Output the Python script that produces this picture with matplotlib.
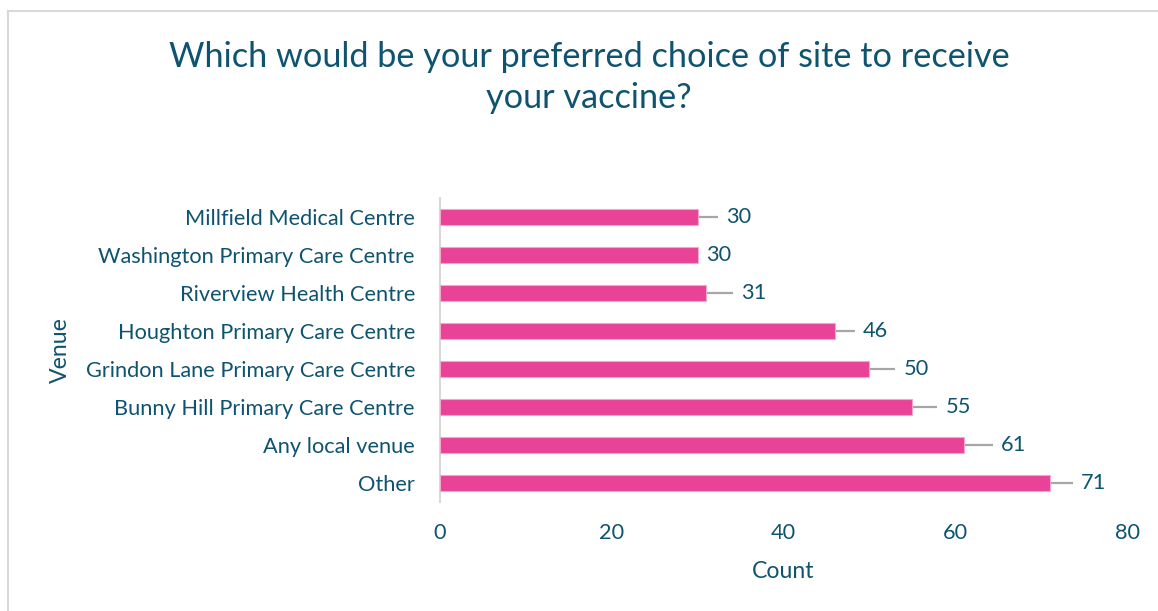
import matplotlib
matplotlib.use("Agg")
import matplotlib.pyplot as plt
from matplotlib.lines import Line2D

plt.rcParams['font.family'] = ['Lato', 'DejaVu Sans']

venues = ["Millfield Medical Centre", "Washington Primary Care Centre", "Riverview Health Centre",
          "Houghton Primary Care Centre", "Grindon Lane Primary Care Centre",
          "Bunny Hill Primary Care Centre", "Any local venue", "Other"]
counts = [30, 30, 31, 46, 50, 55, 61, 71]
leader_px = [20, 0, 27, 20, 26, 25, 29, 23]
xticks = [0, 20, 40, 60, 80]

TXT = "#0E5470"
PINK = "#E84396"
FS = 15.7

W, H = 1158, 611
fig = plt.figure(figsize=(W/100, H/100), dpi=100)
ax = fig.add_axes([440/W, 1-502/H, (1127-440)/W, (502-198)/H])

ypos = list(range(len(venues)))[::-1]
ax.barh(ypos, counts, height=0.42, color=PINK, edgecolor="#F4A6CB", linewidth=0.8, zorder=3)
ax.set_xlim(0, 80)
ax.set_ylim(-0.5, len(venues)-0.5)
ax.set_yticks(ypos)
ax.set_yticklabels(venues)
ax.set_xticks(xticks)
ax.set_xticklabels([str(t) for t in xticks])
ax.tick_params(axis='y', length=0, pad=18, labelsize=FS, labelcolor=TXT)
ax.tick_params(axis='x', length=0, pad=15, labelsize=FS, labelcolor=TXT)
for s in ['top', 'right', 'bottom']:
    ax.spines[s].set_visible(False)
ax.spines['left'].set_color("#D9D9D9")
ax.spines['left'].set_linewidth(1.5)

px_per_unit = (1127-440)/80.0
for y, v, lp in zip(ypos, counts, leader_px):
    dx = lp/px_per_unit
    if lp > 0:
        ax.plot([v, v+dx], [y, y], color="#A6A6A6", lw=1.6, zorder=2, solid_capstyle='butt')
    ax.text(v+dx+8/px_per_unit, y, str(v), va='center', ha='left', fontsize=FS, color=TXT)

fig.text(783/W, 1-572/H, "Count", ha='center', va='center', fontsize=16.6, color=TXT)
fig.text(60/W, 1-350/H, "Venue", ha='center', va='center', fontsize=16.6, color=TXT, rotation=90)

fig.text(589/W, 1-57/H, "Which would be your preferred choice of site to receive",
         ha='center', va='center', fontsize=24.7, color=TXT)
fig.text(589/W, 1-98/H, "your vaccine?", ha='center', va='center', fontsize=24.7, color=TXT)

fig.add_artist(Line2D([8/W, 1], [1-11/H, 1-11/H], color="#D9D9D9", lw=1.5, transform=fig.transFigure))
fig.add_artist(Line2D([8/W, 8/W], [1-11/H, 0], color="#D9D9D9", lw=1.5, transform=fig.transFigure))

fig.savefig("out.png", dpi=100)
